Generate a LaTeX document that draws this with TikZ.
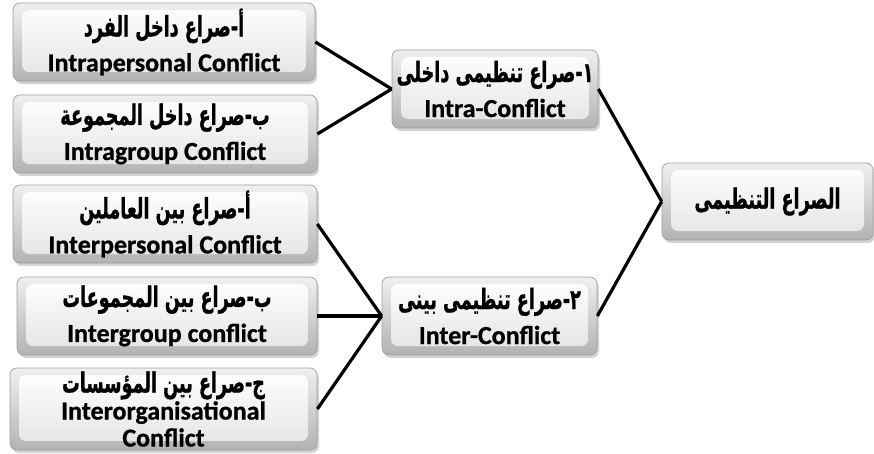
\documentclass[tikz,border=0pt]{standalone}
\usepackage{fontspec}
\setmainfont{Carlito}[BoldFeatures={FakeBold=0.8}]
\newfontfamily\arabicfont[Script=Arabic,BoldFeatures={FakeBold=1.2}]{DejaVu Sans}
\TeXXeTstate=1
\usetikzlibrary{shadows,calc}
\newcommand\artxt[1]{\scalebox{0.88}[1.4]{\fontsize{20}{22}\selectfont\arabicfont\beginR #1\endR}}
\tikzset{
 box/.style={rounded corners=7pt, draw=gray!75, line width=0.7pt,
   top color=gray!12, bottom color=gray!60,
   drop shadow={opacity=0.35,shadow xshift=2pt,shadow yshift=-3pt},
   align=center, font=\fontsize{26}{32}\selectfont\bfseries, inner sep=0pt,
   path picture={\shade[top color=white,bottom color=gray!22]
     ($(path picture bounding box.south west)+(9pt,9pt)$) rectangle
     ($(path picture bounding box.north east)+(-9pt,-7pt)$);}},
 conn/.style={line width=3.2pt, black}
}
\begin{document}
\begin{tikzpicture}[x=1pt,y=1pt]
\useasboundingbox (0,0) rectangle (874,-453);
\node[box, minimum width=302pt, minimum height=78pt] (a1) at (164,-42) {\artxt{أ-صراع داخل الفرد}\\[3pt]Intrapersonal Conflict};
\node[box, minimum width=304pt, minimum height=78pt] (a2) at (165,-134) {\artxt{ب-صراع داخل المجموعة}\\[3pt]Intragroup Conflict};
\node[box, minimum width=304pt, minimum height=78pt] (b1) at (165,-224) {\artxt{أ-صراع بين العاملين}\\[3pt]Interpersonal Conflict};
\node[box, minimum width=300pt, minimum height=78pt] (b2) at (167,-316) {\artxt{ب-صراع بين المجموعات}\\[3pt]Intergroup conflict};
\node[box, minimum width=307pt, minimum height=82pt, font=\fontsize{26}{27}\selectfont\bfseries] (b3) at (163.5,-409) {\artxt{ج-صراع بين المؤسسات}\\Interorganisational\\Conflict};
\node[box, minimum width=206pt, minimum height=78pt] (m1) at (495,-89) {\artxt{١-صراع تنظيمى داخلى}\\[3pt]Intra-Conflict};
\node[box, minimum width=215pt, minimum height=78pt] (m2) at (489.5,-316) {\artxt{٢-صراع تنظيمى بينى}\\[3pt]Inter-Conflict};
\node[box, minimum width=211pt, minimum height=77pt] (r) at (767.5,-201.5) {\raisebox{-6pt}{\artxt{الصراع التنظيمى}}};
\draw[conn] (a1.east) -- (m1.west);
\draw[conn] (a2.east) -- (m1.west);
\draw[conn] (b1.east) -- (m2.west);
\draw[conn] (b2.east) -- (m2.west);
\draw[conn] (b3.east) -- (m2.west);
\draw[conn] (m1.east) -- (r.west);
\draw[conn] (m2.east) -- (r.west);
\end{tikzpicture}
\end{document}
